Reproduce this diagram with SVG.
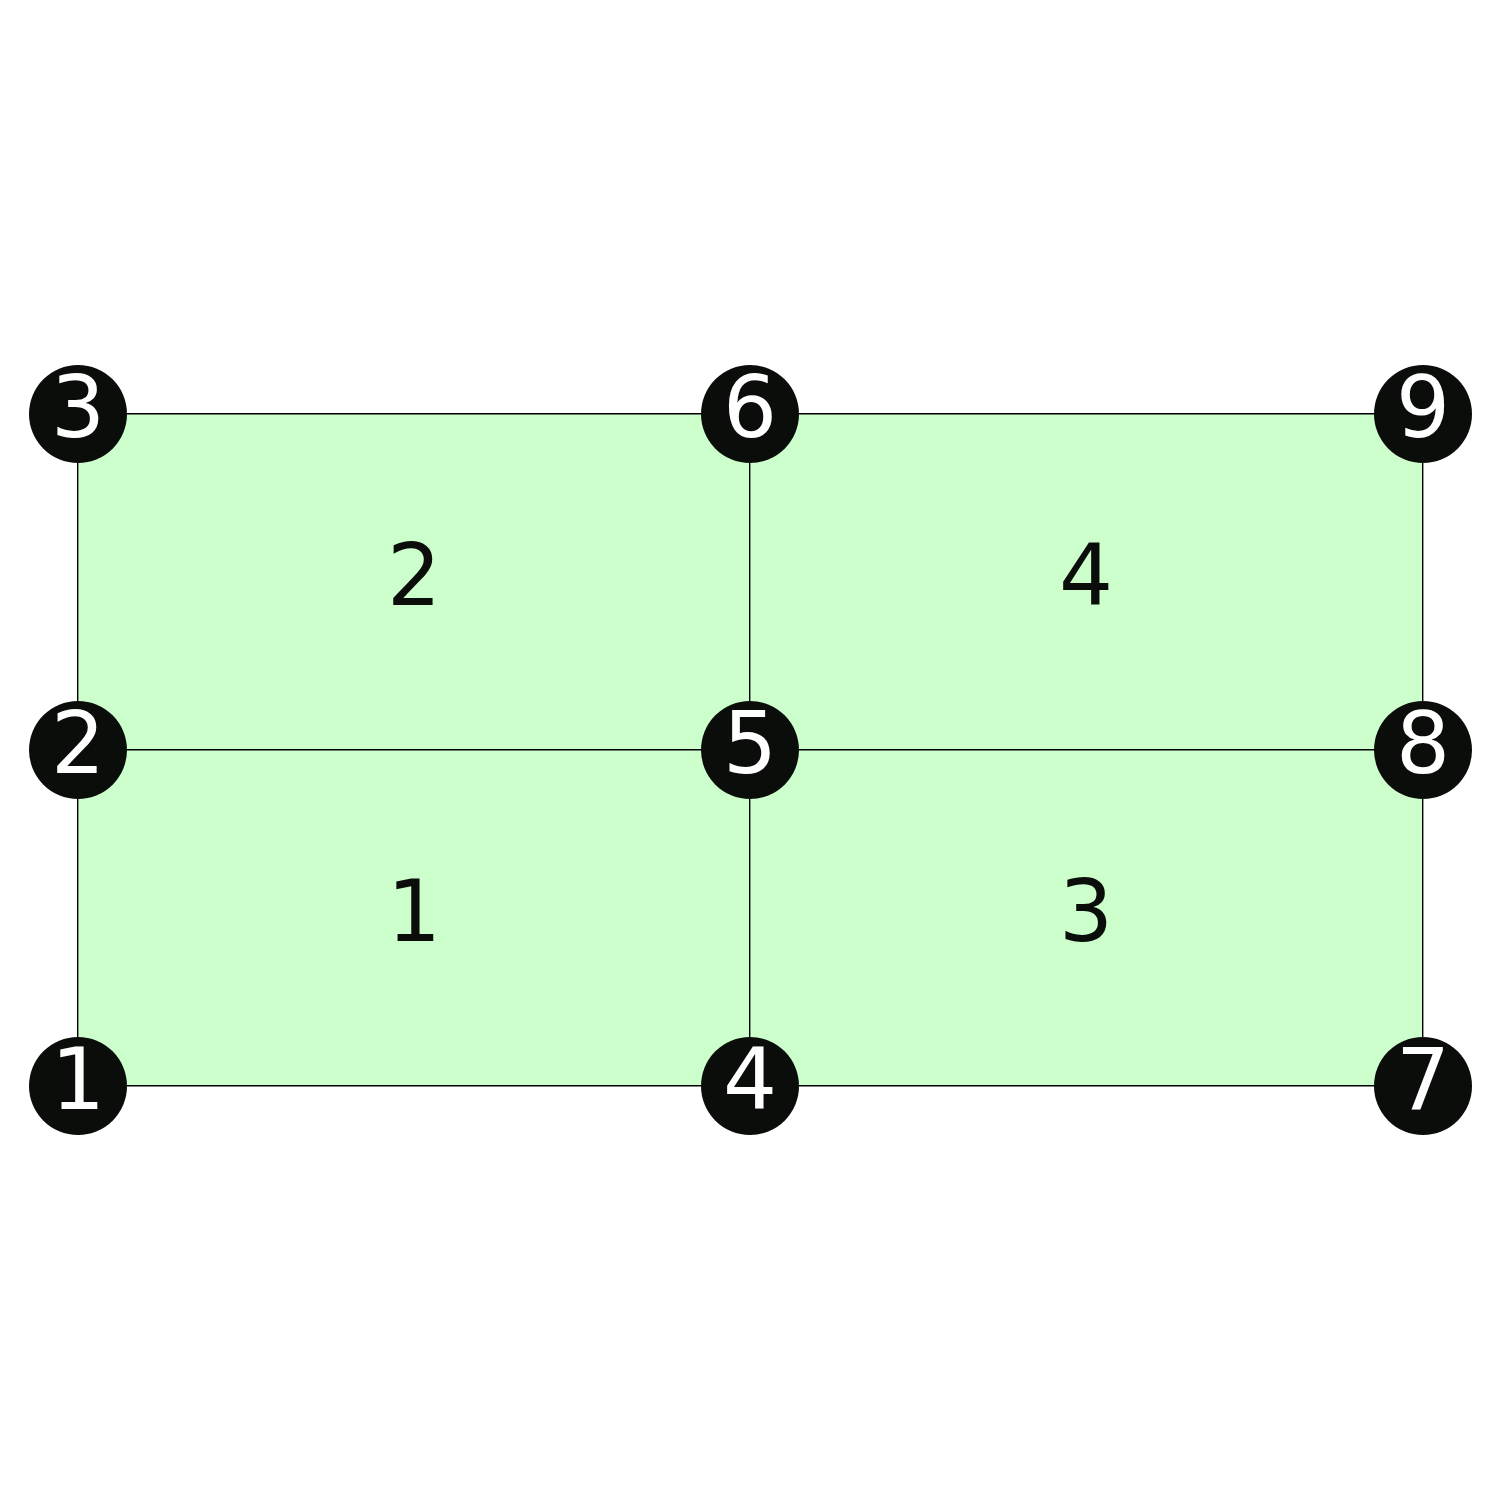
<svg xmlns="http://www.w3.org/2000/svg" width="1500" height="1500" viewBox="0 0 1500 1500">
<style>
.cell{fill:#ccffcc;stroke:none}
.edge{stroke:#000000;stroke-width:1.4;fill:none}
.node circle{fill:#0a0d0a}
.node text{fill:#ffffff;font-family:"DejaVu Sans",sans-serif;font-size:85px;text-anchor:middle}
.elabel{fill:#0a0d0a;font-family:"DejaVu Sans",sans-serif;font-size:85px;text-anchor:middle}
</style>
<rect width="1500" height="1500" fill="#ffffff"/>
<g id="elements">
<g id="element-1"><rect class="cell" x="78" y="750" width="672" height="336"/><text class="elabel" x="414" y="941">1</text></g>
<g id="element-2"><rect class="cell" x="78" y="414" width="672" height="336"/><text class="elabel" x="414" y="605">2</text></g>
<g id="element-3"><rect class="cell" x="750" y="750" width="673" height="336"/><text class="elabel" x="1086" y="941">3</text></g>
<g id="element-4"><rect class="cell" x="750" y="414" width="673" height="336"/><text class="elabel" x="1086" y="605">4</text></g>
</g>
<g id="connectors">
<line class="edge" x1="78" y1="413.7" x2="1423" y2="413.7"/>
<line class="edge" x1="78" y1="749.7" x2="1423" y2="749.7"/>
<line class="edge" x1="78" y1="1085.7" x2="1423" y2="1085.7"/>
<line class="edge" x1="77.7" y1="414" x2="77.7" y2="1086"/>
<line class="edge" x1="749.7" y1="414" x2="749.7" y2="1086"/>
<line class="edge" x1="1422.7" y1="414" x2="1422.7" y2="1086"/>
</g>
<g id="node-1" class="node"><circle cx="78" cy="1086" r="49"/><text x="78" y="1109">1</text></g>
<g id="node-2" class="node"><circle cx="78" cy="750" r="49"/><text x="78" y="773">2</text></g>
<g id="node-3" class="node"><circle cx="78" cy="414" r="49"/><text x="78" y="437">3</text></g>
<g id="node-4" class="node"><circle cx="750" cy="1086" r="49"/><text x="750" y="1109">4</text></g>
<g id="node-5" class="node"><circle cx="750" cy="750" r="49"/><text x="750" y="773">5</text></g>
<g id="node-6" class="node"><circle cx="750" cy="414" r="49"/><text x="750" y="437">6</text></g>
<g id="node-7" class="node"><circle cx="1423" cy="1086" r="49"/><text x="1423" y="1109">7</text></g>
<g id="node-8" class="node"><circle cx="1423" cy="750" r="49"/><text x="1423" y="773">8</text></g>
<g id="node-9" class="node"><circle cx="1423" cy="414" r="49"/><text x="1423" y="437">9</text></g>
</svg>
